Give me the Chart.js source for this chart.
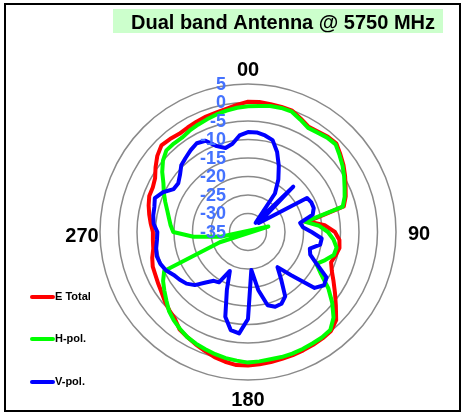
<!DOCTYPE html>
<html>
<head>
<meta charset="utf-8">
<script src="https://cdn.jsdelivr.net/npm/chart.js@4/dist/chart.umd.min.js"></script>
<style>
  html, body { margin: 0; padding: 0; background: #fff; }
  canvas { display: block; }
</style>
</head>
<body>
<canvas id="c" width="462" height="415"></canvas>
<script>
// Angles (degrees) of the pattern samples
const angleLabels = [0,5,10,15,20,25,30,35,40,45,50,55,60,65,70,75,80,85,90,95,100,105,110,115,120,125,130,135,140,145,150,155,160,165,170,175,180,185,190,195,200,205,210,215,220,225,230,235,240,245,250,255,260,265,270,275,280,285,290,295,300,305,310,315,320,325,330,335,340,345,350,355];

// E Total (dB)
const eTotal = [0.2,0.3,0.1,0.0,-0.1,-1.2,-2.2,-1.9,-1.4,-1.2,-2.4,-3.5,-4.7,-5.9,-6.9,-8.2,-18.5,-14.2,-11.5,-10.2,-9.9,-10.5,-11.1,-10.0,-8.3,-6.3,-4.0,-1.3,-0.1,0.1,0.2,0.3,0.4,0.5,0.7,0.9,1.1,1.1,0.6,0.0,-0.8,-1.5,-2.2,-2.8,-4.3,-5.0,-5.7,-6.5,-7.0,-7.4,-7.6,-8.2,-9.0,-9.2,-9.3,-8.6,-7.9,-7.2,-6.6,-6.6,-6.0,-4.5,-3.0,-1.9,-2.2,-2.6,-2.4,-2.1,-1.8,-1.6,-1.2,-0.5];

// H-pol. (dB)
const hPol = [-1.0,-0.8,-0.4,-0.3,-0.4,-1.5,-2.5,-2.2,-1.7,-1.5,-2.7,-3.8,-5.0,-6.2,-7.2,-8.5,-19.3,-15.7,-13.4,-11.8,-10.7,-11.0,-12.8,-14.6,-12.2,-8.5,-5.3,-2.3,-0.4,-0.2,-0.2,-0.1,0.0,0.0,-0.1,0.1,0.3,-0.1,-0.4,-0.8,-1.3,-1.7,-2.2,-3.0,-3.8,-4.8,-6.2,-7.4,-8.5,-10.0,-26.9,-40.7,-27.5,-20.2,-14.8,-14.0,-13.3,-12.4,-11.2,-9.9,-8.6,-6.7,-5.0,-3.8,-3.8,-3.9,-3.4,-3.0,-2.6,-2.1,-1.7,-1.3];

// V-pol. (dB)
const vPol = [-8.0,-8.0,-8.5,-9.3,-12.0,-15.3,-18.6,-22.3,-31.8,-17.7,-31.2,-29.0,-16.6,-16.1,-16.1,-16.9,-20.7,-20.1,-17.8,-15.0,-15.2,-17.7,-17.1,-14.5,-10.5,-9.9,-11.5,-18.5,-22.6,-19.4,-14.9,-13.6,-13.5,-14.5,-19.1,-24.7,-11.5,-7.5,-8.1,-11.3,-18.3,-23.4,-19.3,-18.9,-17.2,-14.7,-13.3,-12.5,-11.8,-10.5,-9.8,-9.5,-9.8,-10.3,-10.5,-9.4,-9.0,-8.8,-8.2,-9.6,-11.8,-12.0,-11.0,-9.5,-8.8,-8.0,-7.3,-7.8,-10.3,-11.5,-10.8,-8.8];

// Radial tick labels
const tickLabels = [5,0,-5,-10,-15,-20,-25,-30,-35];
// Cardinal angle labels
const cardinalLabels = ['00','90','180','270'];
const seriesNames = ['E Total','H-pol.','V-pol.'];
const titleText = 'Dual band Antenna @ 5750 MHz';

const FONT = '"Liberation Sans", Arial, Helvetica, sans-serif';

const decor = {
  id: 'decor',
  beforeDraw(chart) {
    const c = chart.ctx;
    c.save();
    c.fillStyle = '#ffffff';
    c.fillRect(0, 0, chart.width, chart.height);
    c.restore();
  },
  afterDraw(chart) {
    const c = chart.ctx;
    const s = chart.scales.r;
    const cx = s.xCenter, cy = s.yCenter, R = s.drawingArea;
    c.save();

    // outer frame
    c.strokeStyle = '#000';
    c.lineWidth = 2;
    c.strokeRect(5, 4, 455, 407);

    // title box
    c.fillStyle = '#CCFFCC';
    c.fillRect(113, 9, 330, 24);
    c.font = 'bold 20px ' + FONT;
    c.fillStyle = '#000';
    c.textBaseline = 'alphabetic';
    c.textAlign = 'center';
    c.fillText(titleText, 283, 28.5);

    // radial tick labels
    c.font = 'bold 18px ' + FONT;
    c.fillStyle = '#4472FF';
    c.textAlign = 'right';
    c.textBaseline = 'middle';
    tickLabels.forEach(v => {
      const d = s.getDistanceFromCenterForValue(v);
      c.fillText(String(v), cx - 22, cy - d + 1);
    });

    // cardinal labels
    c.font = 'bold 20px ' + FONT;
    c.fillStyle = '#000';
    c.textAlign = 'center';
    c.textBaseline = 'middle';
    c.fillText(cardinalLabels[0], cx, cy - R - 14);
    c.fillText(cardinalLabels[1], cx + R + 23, cy + 2);
    c.fillText(cardinalLabels[2], cx, cy + R + 20);
    c.fillText(cardinalLabels[3], cx - R - 18, cy + 4);

    // legend
    const cols = ['#FF0000', '#00FF00', '#0000FF'];
    const ys = [297, 339, 382];
    c.font = 'bold 11px ' + FONT;
    c.textAlign = 'left';
    c.textBaseline = 'middle';
    c.lineCap = 'round';
    seriesNames.forEach((n, i) => {
      c.strokeStyle = cols[i];
      c.lineWidth = 4;
      c.beginPath();
      c.moveTo(32, ys[i]);
      c.lineTo(53, ys[i]);
      c.stroke();
      c.fillStyle = '#000';
      c.fillText(n, 55, ys[i]);
    });
    c.restore();
  }
};

new Chart(document.getElementById('c'), {
  type: 'radar',
  data: {
    labels: angleLabels,
    datasets: [
      { label: seriesNames[0], data: eTotal, borderColor: '#FF0000', borderWidth: 4, pointRadius: 0, fill: false, tension: 0, order: 3 },
      { label: seriesNames[1], data: hPol, borderColor: '#00FF00', borderWidth: 4, pointRadius: 0, fill: false, tension: 0, order: 2 },
      { label: seriesNames[2], data: vPol, borderColor: '#0000FF', borderWidth: 4, pointRadius: 0, fill: false, tension: 0, order: 1 }
    ]
  },
  options: {
    responsive: false,
    animation: false,
    devicePixelRatio: 1,
    layout: { padding: { left: 100, right: 66, top: 84, bottom: 35 } },
    elements: { line: { borderJoinStyle: 'round', borderCapStyle: 'round' } },
    plugins: { legend: { display: false }, tooltip: { enabled: false }, title: { display: false } },
    scales: {
      r: {
        min: -35,
        max: 5,
        startAngle: 0,
        ticks: { display: false, stepSize: 5 },
        grid: { circular: true, color: '#8a8a8a', lineWidth: 1.5 },
        angleLines: { display: false },
        pointLabels: { display: false }
      }
    }
  },
  plugins: [decor]
});
</script>
</body>
</html>
